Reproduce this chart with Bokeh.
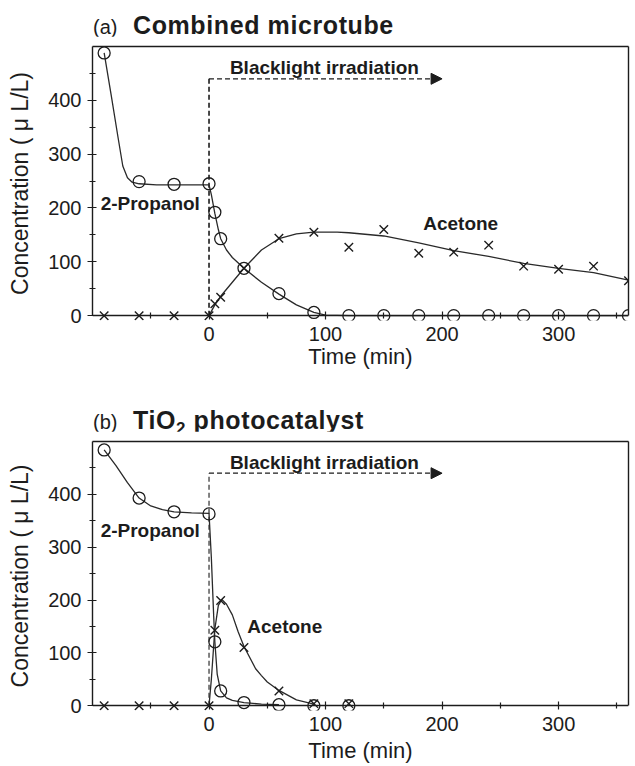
from bokeh.plotting import figure
from bokeh.layouts import column
from bokeh.models import Range1d, LinearAxis, FixedTicker, Label, Arrow, NormalHead, Div
from bokeh.embed import file_html
from bokeh.resources import INLINE

# ---------------- data ----------------
# Panel (a) Combined microtube
a_prop_t = [-90, -60, -30, 0, 5, 10, 30, 60, 90, 120, 150, 180, 210, 240, 270, 300, 330, 360]
a_prop_c = [488, 249, 244, 245, 192, 143, 88, 41, 6, 0, 0, 0, 0, 0, 0, 0, 0, 0]
a_acet_t = [-90, -60, -30, 0, 5, 10, 30, 60, 90, 120, 150, 180, 210, 240, 270, 300, 330, 360]
a_acet_c = [0, 0, 0, 0, 22, 34, 88, 144, 155, 127, 160, 116, 118, 131, 92, 86, 92, 65]
# fitted curves (a)
a_fit_prop_t = [-90, -84, -78, -74, -70, -66, -60, -45, -30, -15, 0, 2, 5, 8, 10, 15, 20, 30, 45, 60, 75, 90, 100, 120, 360]
a_fit_prop_c = [488, 410, 330, 278, 256, 248, 245, 243, 243, 243, 243, 225, 190, 160, 143, 122, 108, 88, 62, 40, 20, 6, 1, 0, 0]
a_fit_acet_t = [0, 5, 10, 20, 30, 45, 60, 75, 90, 110, 120, 150, 180, 210, 240, 270, 300, 330, 360]
a_fit_acet_c = [0, 20, 36, 62, 88, 122, 143, 152, 155, 155, 154, 148, 135, 121, 110, 97, 88, 80, 66]

# Panel (b) TiO2 photocatalyst
b_prop_t = [-90, -60, -30, 0, 5, 10, 30, 60, 90, 120]
b_prop_c = [484, 393, 367, 363, 121, 28, 6, 2, 0, 0]
b_acet_t = [-90, -60, -30, 0, 5, 10, 30, 60, 90, 120]
b_acet_c = [0, 0, 0, 0, 143, 199, 110, 28, 4, 4]
# fitted curves (b)
b_fit_prop_t = [-90, -80, -70, -60, -50, -40, -30, -15, 0, 2, 4, 5, 7, 10, 15, 20, 30, 45, 60]
b_fit_prop_c = [484, 455, 422, 393, 378, 371, 367, 365, 364, 280, 170, 121, 60, 28, 15, 10, 6, 3, 2]
b_fit_acet_t = [0, 2, 5, 8, 11, 15, 20, 25, 30, 40, 45, 50, 60, 75, 90]
b_fit_acet_c = [0, 50, 145, 190, 201, 192, 172, 140, 112, 70, 57, 45, 29, 11, 3]

# irradiation marker (start time, level, arrow end)
irr_t0 = 0
irr_level = 440
irr_t1 = 200

x_ticks = [0, 100, 200, 300]
x_minor = [-50, 50, 150, 250, 350]
y_ticks = [0, 100, 200, 300, 400]
y_minor = [50, 150, 250, 350, 450]

FONT = "Liberation Sans"
INK = "#1c1c1c"
W = 633


def title_div(tag, title_html, height, top):
    html = (
        f'<div style="position:relative;width:{W}px;height:{height}px;'
        f'font-family:\'{FONT}\',Arial,sans-serif;color:{INK};">'
        f'<span style="position:absolute;left:93px;top:{top + 2}px;font-size:20px;'
        f'line-height:20px;white-space:nowrap;">{tag}</span>'
        f'<span style="position:absolute;left:133px;top:{top - 2}px;font-size:25px;'
        f'line-height:25px;font-weight:bold;letter-spacing:0.6px;white-space:nowrap;">{title_html}</span></div>'
    )
    return Div(text=html, width=W, height=height, margin=(0, 0, 0, 0))


def tick_axis(ticks, tin, tout, line=True):
    ax = LinearAxis(fixed_location=0, ticker=FixedTicker(ticks=[], minor_ticks=ticks))
    ax.axis_line_color = INK if line else None
    ax.axis_line_width = 1.4
    ax.major_tick_line_color = None
    ax.minor_tick_line_color = INK
    ax.minor_tick_line_width = 1.2
    ax.minor_tick_in = tin
    ax.minor_tick_out = tout
    return ax


def make_panel(prop_t, prop_c, acet_t, acet_c, fpt, fpc, fat, fac,
               prop_lbl, acet_lbl, height, bbot, dash_w, xlab_standoff):
    p = figure(width=W, height=height, x_range=Range1d(-100, 360), y_range=Range1d(-9, 500),
               output_backend="svg", toolbar_location=None, x_axis_type=None, y_axis_type=None,
               min_border_left=92, min_border_right=5, min_border_top=10, min_border_bottom=bbot)
    p.outline_line_color = None
    p.background_fill_color = "white"
    p.border_fill_color = "white"

    # x axis line + ticks drawn at concentration 0
    p.add_layout(tick_axis(x_ticks, 4, 4, True), "above")
    p.add_layout(tick_axis(x_minor, 3, 3, False), "above")

    # x tick labels and axis title
    xa = LinearAxis(ticker=FixedTicker(ticks=x_ticks), axis_label="Time (min)")
    xa.axis_line_color = None
    xa.major_tick_line_color = None
    xa.minor_tick_line_color = None
    xa.major_tick_in = 0
    xa.major_tick_out = 0
    xa.major_label_standoff = 6
    xa.major_label_text_font = FONT
    xa.major_label_text_font_size = "20px"
    xa.major_label_text_color = INK
    xa.axis_label_text_font = FONT
    xa.axis_label_text_font_size = "22px"
    xa.axis_label_text_font_style = "normal"
    xa.axis_label_text_color = INK
    xa.axis_label_standoff = xlab_standoff
    p.add_layout(xa, "below")

    ya = LinearAxis(bounds=(0, 500), ticker=FixedTicker(ticks=y_ticks, minor_ticks=y_minor),
                    axis_label="Concentration ( μ L/L)")
    ya.axis_line_color = INK
    ya.axis_line_width = 1.4
    ya.major_tick_line_color = INK
    ya.minor_tick_line_color = INK
    ya.major_tick_in = 4
    ya.major_tick_out = 5
    ya.minor_tick_in = 3
    ya.minor_tick_out = 3
    ya.major_label_standoff = 6
    ya.major_label_text_font = FONT
    ya.major_label_text_font_size = "20px"
    ya.major_label_text_color = INK
    ya.axis_label_text_font = FONT
    ya.axis_label_text_font_size = "23px"
    ya.axis_label_text_font_style = "normal"
    ya.axis_label_text_color = INK
    ya.axis_label_standoff = 12
    p.add_layout(ya, "left")

    for side, bnd in (("above", "auto"), ("right", (0, 500))):
        ax = LinearAxis(ticker=FixedTicker(ticks=[]), bounds=bnd)
        ax.axis_line_color = INK
        ax.axis_line_width = 1.4
        ax.major_tick_line_color = None
        ax.minor_tick_line_color = None
        ax.major_label_standoff = 0
        p.add_layout(ax, side)

    # irradiation dashed marker
    p.line([irr_t0, irr_t0], [0, irr_level], line_color=INK, line_width=dash_w, line_dash="5 3")
    p.add_layout(Arrow(x_start=irr_t0, y_start=irr_level, x_end=irr_t1, y_end=irr_level,
                       line_color=INK, line_width=1.2, line_dash="5 3",
                       end=NormalHead(size=11, fill_color=INK, line_color=INK, line_width=1)))
    p.add_layout(Label(x=99, y=461, text="Blacklight irradiation", text_font=FONT,
                       text_font_size="19px", text_font_style="bold", text_color=INK,
                       text_align="center", text_baseline="middle"))

    # fitted curves
    p.line(fpt, fpc, line_color="#2a2a2a", line_width=1.3)
    p.line(fat, fac, line_color="#2a2a2a", line_width=1.3)

    # data markers
    p.scatter(prop_t, prop_c, marker="circle", size=12, fill_color=None,
              line_color=INK, line_width=1.3)
    p.scatter(acet_t, acet_c, marker="x", size=12, line_color=INK, line_width=1.4)

    # curve labels
    p.add_layout(Label(x=-93, y=prop_lbl, text="2-Propanol", text_font=FONT,
                       text_font_size="19px", text_font_style="bold", text_color=INK,
                       text_align="left", text_baseline="middle"))
    p.add_layout(Label(x=acet_lbl[0], y=acet_lbl[1], text="Acetone", text_font=FONT,
                       text_font_size="19px", text_font_style="bold", text_color=INK,
                       text_align="center", text_baseline="middle"))
    return p


div_a = title_div("(a)", "Combined microtube", 36, 15)
pa = make_panel(a_prop_t, a_prop_c, a_acet_t, a_acet_c,
                a_fit_prop_t, a_fit_prop_c, a_fit_acet_t, a_fit_acet_c,
                209, (216, 172), 339, 55, 1.6, 0)
div_b = title_div("(b)", 'TiO<span style="font-size:17px;position:relative;top:5px;">2</span> photocatalyst',
                  56, 35)
pb = make_panel(b_prop_t, b_prop_c, b_acet_t, b_acet_c,
                b_fit_prop_t, b_fit_prop_c, b_fit_acet_t, b_fit_acet_c,
                331, (65, 149), 334, 51, 1.1, 4)

layout = column(div_a, pa, div_b, pb, spacing=0)
open("out.html", "w").write(file_html(layout, INLINE))
